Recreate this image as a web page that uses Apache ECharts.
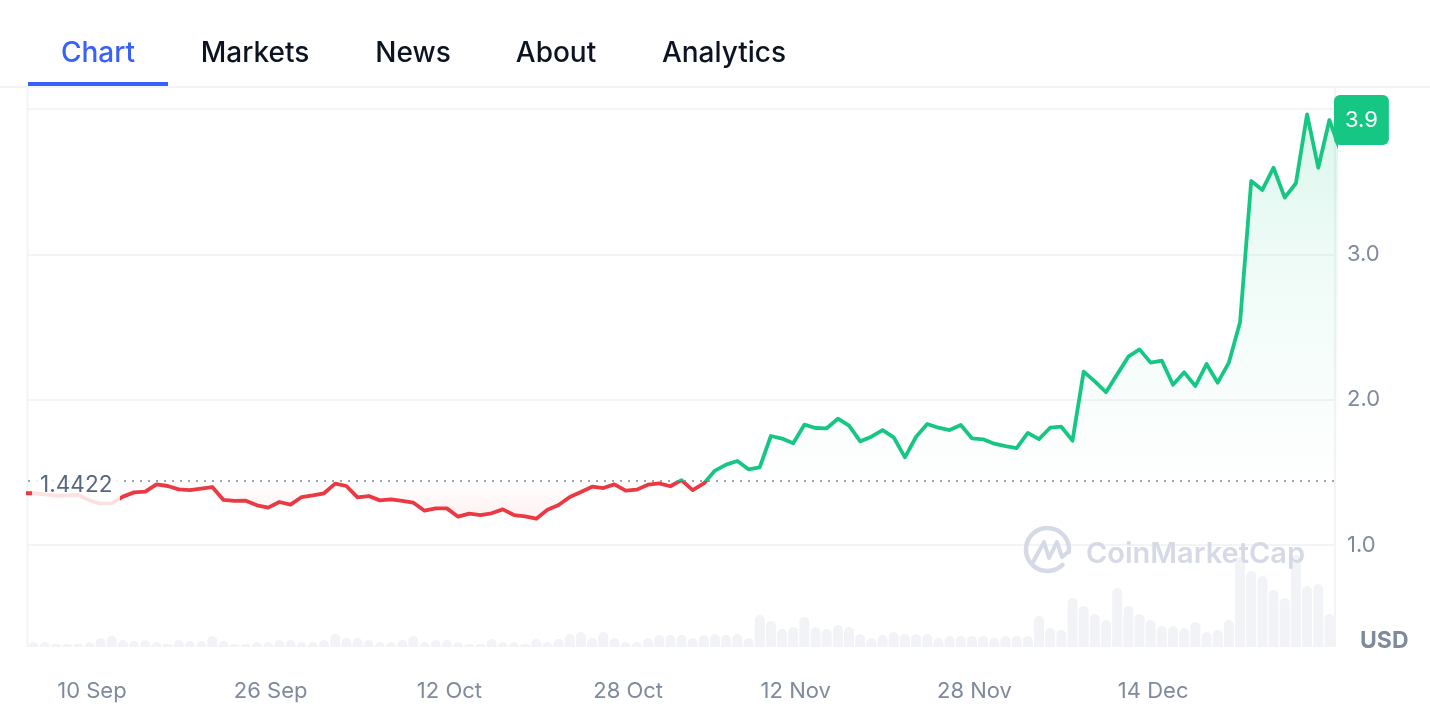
<!DOCTYPE html>
<html>
<head>
<meta charset="utf-8">
<style>
html, body { margin: 0; background: #fff; }
#chart { width: 1430px; height: 724px; }
</style>
<script src="https://cdn.jsdelivr.net/npm/echarts@6/dist/echarts.min.js"></script>
</head>
<body>
<div id="chart"></div>
<script>
const days = [
    "4 Sep", "5 Sep", "6 Sep", "7 Sep", "8 Sep", "9 Sep", "10 Sep", "11 Sep", "12 Sep", "13 Sep", "14 Sep", "15 Sep", "16 Sep", "17 Sep",
    "18 Sep", "19 Sep", "20 Sep", "21 Sep", "22 Sep", "23 Sep", "24 Sep", "25 Sep", "26 Sep", "27 Sep", "28 Sep", "29 Sep", "30 Sep",
    "1 Oct", "2 Oct", "3 Oct", "4 Oct", "5 Oct", "6 Oct", "7 Oct", "8 Oct", "9 Oct", "10 Oct", "11 Oct", "12 Oct", "13 Oct", "14 Oct", "15 Oct",
    "16 Oct", "17 Oct", "18 Oct", "19 Oct", "20 Oct", "21 Oct", "22 Oct", "23 Oct", "24 Oct", "25 Oct", "26 Oct", "27 Oct", "28 Oct", "29 Oct",
    "30 Oct", "31 Oct",
    "1 Nov", "2 Nov", "3 Nov", "4 Nov", "5 Nov", "6 Nov", "7 Nov", "8 Nov", "9 Nov", "10 Nov", "11 Nov", "12 Nov", "13 Nov", "14 Nov", "15 Nov",
    "16 Nov", "17 Nov", "18 Nov", "19 Nov", "20 Nov", "21 Nov", "22 Nov", "23 Nov", "24 Nov", "25 Nov", "26 Nov", "27 Nov", "28 Nov", "29 Nov", "30 Nov",
    "1 Dec", "2 Dec", "3 Dec", "4 Dec", "5 Dec", "6 Dec", "7 Dec", "8 Dec", "9 Dec", "10 Dec", "11 Dec", "12 Dec", "13 Dec", "14 Dec", "15 Dec",
    "16 Dec", "17 Dec", "18 Dec", "19 Dec", "20 Dec", "21 Dec", "22 Dec", "23 Dec", "24 Dec", "25 Dec", "26 Dec", "27 Dec", "28 Dec", "29 Dec", "30 Dec", "31 Dec"
];
const tickLabels = ["10 Sep", "26 Sep", "12 Oct", "28 Oct", "12 Nov", "28 Nov", "14 Dec"];
const tabs = ["Chart", "Markets", "News", "About", "Analytics"];
const baseline = 1.4422;
const price = [
    1.356, 1.356, 1.349, 1.339, 1.342, 1.344, 1.307, 1.284, 1.287, 1.333, 1.362, 1.367, 1.417, 1.406, 1.383,
    1.378, 1.388, 1.399, 1.310, 1.303, 1.305, 1.273, 1.257, 1.296, 1.278, 1.330, 1.342, 1.356, 1.422, 1.406,
    1.328, 1.337, 1.307, 1.314, 1.303, 1.291, 1.236, 1.252, 1.252, 1.195, 1.216, 1.206, 1.218, 1.245, 1.206,
    1.197, 1.181, 1.243, 1.275, 1.330, 1.365, 1.401, 1.392, 1.417, 1.374, 1.381, 1.415, 1.424, 1.404, 1.446,
    1.378, 1.424, 1.512, 1.553, 1.578, 1.521, 1.534, 1.750, 1.732, 1.700, 1.828, 1.805, 1.803, 1.869, 1.821,
    1.713, 1.745, 1.791, 1.741, 1.603, 1.745, 1.833, 1.807, 1.791, 1.826, 1.734, 1.727, 1.697, 1.681, 1.667,
    1.771, 1.729, 1.807, 1.814, 1.718, 2.193, 2.126, 2.051, 2.174, 2.296, 2.346, 2.255, 2.268, 2.103, 2.188,
    2.094, 2.245, 2.117, 2.255, 2.532, 3.505, 3.443, 3.596, 3.390, 3.489, 3.963, 3.596, 3.924, 3.709
];
// 首尾两天在图外，没有成交量柱
const volume = [
    null, 5, 5, 3, 3, 3, 5, 9, 11, 7, 6, 7, 5, 3, 7,
    6, 6, 11, 6, 3, 3, 5, 5, 7, 7, 5, 5, 7, 13, 9,
    9, 7, 5, 5, 7, 11, 5, 7, 7, 5, 3, 3, 8, 5, 5,
    3, 8, 5, 8, 13, 15, 9, 15, 9, 5, 5, 9, 12, 12, 12,
    9, 12, 13, 12, 13, 9, 32, 26, 18, 20, 30, 20, 18, 22, 20,
    13, 9, 12, 15, 13, 13, 13, 9, 11, 11, 11, 11, 9, 11, 11,
    11, 31, 19, 17, 49, 41, 33, 27, 59, 41, 33, 27, 21, 21, 19,
    25, 15, 17, 27, 90, 76, 71, 57, 49, 92, 61, 63, 33, null
];

const GREEN = "#16c784";
const RED = "#ea3943";
const GRID_LINE = "#f3f4f6";
const AXIS_TEXT = "#808a9d";
const LOGO = "#d6dae6";
const FONT = "Inter";
const tabCenters = [98, 255, 413, 556, 724];

const areaFill = new echarts.graphic.LinearGradient(0, 109, 0, 545, [
    { offset: 0, color: "rgba(22,199,132,0.16)" },
    { offset: 0.335, color: "rgba(22,199,132,0.07)" },
    { offset: 0.6, color: "rgba(22,199,132,0.035)" },
    { offset: 0.851, color: "rgba(22,199,132,0.005)" },
    { offset: 0.854, color: "rgba(234,57,67,0)" },
    { offset: 0.943, color: "rgba(234,57,67,0.08)" },
    { offset: 1, color: "rgba(234,57,67,0.1)" }
], true);

let graphicItems = [
    { type: "line", z: 1, shape: { x1: 0, y1: 87, x2: 1430, y2: 87 }, style: { stroke: GRID_LINE, lineWidth: 2 } },
    { type: "line", z: 1, shape: { x1: 27.5, y1: 87, x2: 27.5, y2: 647 }, style: { stroke: GRID_LINE, lineWidth: 2 } },
    { type: "line", z: 1, shape: { x1: 1335, y1: 87, x2: 1335, y2: 647 }, style: { stroke: GRID_LINE, lineWidth: 2 } },
    { type: "rect", z: 2, shape: { x: 28, y: 82, width: 140, height: 4 }, style: { fill: "#3861fb" } },
    // 基准价标签
    { type: "rect", z: 100, shape: { x: 32, y: 470, width: 88, height: 38, r: 4 }, style: { fill: "rgba(255,255,255,0.85)" } },
    {
        type: "text", z: 101, x: 40, y: 485,
        style: { text: String(baseline), fill: "#58667e", font: "400 22.6px " + FONT, textVerticalAlign: "middle" }
    },
    {
        type: "text", z: 101, x: 1360, y: 641,
        style: { text: "USD", fill: AXIS_TEXT, font: "700 23px " + FONT, textVerticalAlign: "middle" }
    },
    // 水印
    {
        type: "arc", z: 5,
        shape: { cx: 1047.5, cy: 549.5, r: 21.5, startAngle: 0.12, endAngle: 0.8, clockwise: false },
        style: { stroke: LOGO, lineWidth: 4.5, fill: "none", lineCap: "round" }
    },
    {
        type: "polyline", z: 5,
        shape: { points: [[1033, 562], [1044, 542], [1049, 558], [1057, 542], [1062, 557], [1068, 552]] },
        style: { stroke: LOGO, lineWidth: 4, fill: "none", lineJoin: "round", lineCap: "round" }
    },
    {
        type: "text", z: 5, x: 1086, y: 554,
        style: { text: "CoinMarketCap", fill: LOGO, font: "600 29px " + FONT, textVerticalAlign: "middle" }
    }
];
tabs.forEach(function (name, i) {
    graphicItems.push({
        type: "text", z: 3, x: tabCenters[i], y: 54,
        style: {
            text: name,
            fill: i === 0 ? "#3861fb" : "#0d1421",
            font: "500 28px " + FONT,
            textAlign: "center",
            textVerticalAlign: "middle"
        }
    });
});

let myChart = echarts.init(document.getElementById("chart"));
myChart.setOption({
    animation: false,
    backgroundColor: "#fff",
    graphic: graphicItems,
    grid: [
        { left: 28, right: 95, top: 109, height: 436 },
        { left: 28, right: 95, top: 545, height: 102 }
    ],
    xAxis: [
        { type: "value", gridIndex: 0, min: 0.5, max: 117.5, show: false, splitLine: { show: false } },
        {
            type: "value",
            gridIndex: 1,
            min: 0.5,
            max: 117.5,
            axisLine: { show: false },
            axisTick: { show: false },
            splitLine: { show: false },
            axisLabel: {
                customValues: tickLabels.map(function (d) { return days.indexOf(d); }),
                formatter: function (v) { return days[v]; },
                color: AXIS_TEXT,
                fontFamily: FONT,
                fontSize: 22,
                margin: 33,
                padding: [0, 0, 0, 5]
            }
        }
    ],
    yAxis: [
        {
            type: "value",
            gridIndex: 0,
            position: "right",
            min: 1,
            max: 4,
            interval: 1,
            axisLine: { show: false },
            axisTick: { show: false },
            splitLine: { lineStyle: { color: GRID_LINE, width: 2 } },
            axisLabel: {
                showMaxLabel: false,
                formatter: function (v) { return v.toFixed(1); },
                color: AXIS_TEXT,
                fontFamily: FONT,
                fontSize: 22,
                margin: 12
            }
        },
        { type: "value", gridIndex: 1, min: 0, max: 102, show: false, splitLine: { show: false } }
    ],
    visualMap: {
        show: false,
        type: "piecewise",
        seriesIndex: 0,
        dimension: 1,
        pieces: [
            { gte: 0, lt: baseline, color: RED },
            { gte: baseline, lte: 10, color: GREEN }
        ]
    },
    series: [
        {
            name: "Price",
            type: "line",
            xAxisIndex: 0,
            yAxisIndex: 0,
            data: price.map(function (v, i) { return [i, v]; }),
            showSymbol: false,
            z: 4,
            lineStyle: { width: 3.8, join: "round" },
            areaStyle: { origin: baseline, color: areaFill, opacity: 1 },
            markLine: {
                silent: true,
                symbol: "none",
                label: { show: false },
                lineStyle: { color: "#7f8796", type: [2, 6], width: 1.6 },
                data: [{ yAxis: baseline }]
            },
            markPoint: {
                silent: true,
                symbol: "circle",
                symbolSize: 1,
                itemStyle: { color: "transparent" },
                label: {
                    show: true,
                    position: "inside",
                    offset: [32, 0],
                    formatter: function () { return price[117].toFixed(1); },
                    color: "#fff",
                    fontFamily: FONT,
                    fontSize: 22,
                    backgroundColor: GREEN,
                    borderRadius: 6,
                    padding: [14, 11]
                },
                data: [{ coord: [117, price[117]] }]
            }
        },
        {
            name: "Volume",
            type: "bar",
            xAxisIndex: 1,
            yAxisIndex: 1,
            data: volume.map(function (v, i) { return [i, v]; }),
            barWidth: 10,
            z: 3,
            itemStyle: { color: "#f2f3f6", borderRadius: [5, 5, 0, 0] }
        }
    ]
});
</script>
</body>
</html>
